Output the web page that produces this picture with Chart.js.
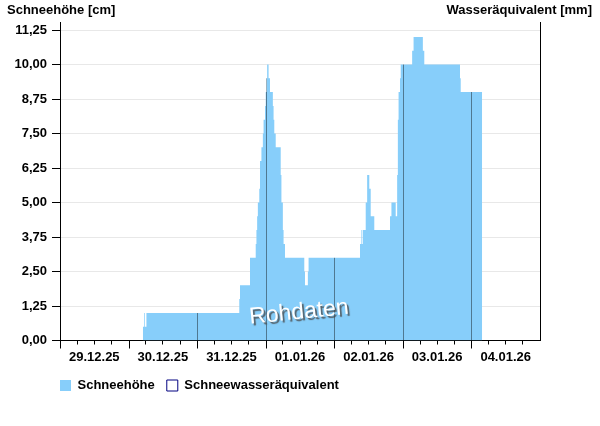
<!DOCTYPE html>
<html lang="de">
<head>
<meta charset="UTF-8">
<title>Schneehöhe</title>
<script src="https://cdn.jsdelivr.net/npm/chart.js"></script>
<style>
  html, body { margin: 0; padding: 0; background: #fff; }
</style>
</head>
<body>
<canvas id="chartSchnee" width="600" height="426"></canvas>

<script>
    // Tage auf der x-Achse (Stunden ab 29.12.25 00:00)
    const dayLabels = ['29.12.25', '30.12.25', '31.12.25', '01.01.26', '02.01.26', '03.01.26', '04.01.26'];

    // Schneehöhe: Zeitpunkt (Stunde) ab dem ein Wert gilt
    const snowHours = [29, 29.5, 29.75, 30.25, 62.75, 63, 66.5,
        68.5, 68.75, 69, 69.25, 69.75, 70, 70.5, 71, 71.25, 71.75,
        72, 72.25, 72.5, 73, 73.5, 74.5, 74.75, 75, 75.5,
        77.25, 77.5, 78, 78.25, 78.75, 85.5, 85.75, 86.75, 87,
        105, 105.5, 105.75, 106, 107, 107.5, 108.25, 108.75, 110,
        115.5, 116, 117.5, 118, 118.25, 118.5, 119, 119.25,
        123.25, 123.75, 127, 127.5, 140, 140.25, 147.75];
    const snowDepth = [0.5, 1, 0.5, 1, 1.5, 2, 3,
        3.5, 4, 4.5, 5, 5.5, 6.5, 7, 7.5, 8, 8.5,
        9, 9.5, 10, 9.5, 9, 8.5, 8, 7.5, 7,
        6, 5, 4, 3.5, 3, 2.5, 2, 2.5, 3,
        3.5, 4, 3.5, 4, 5, 6, 5.5, 4.5, 4,
        4.5, 5, 4.5, 6, 8, 9, 9.5, 10,
        10.5, 11, 10.5, 10, 9.5, 9, 0];

    // Schneewasseräquivalent: keine Werte vorhanden
    const sweHours = [];
    const sweValues = [];

    const yMin = 0, yMax = 11.54, yStep = 1.25;
    const titleLeft = 'Schneehöhe [cm]';
    const titleRight = 'Wasseräquivalent [mm]';
    const watermark = 'Rohdaten';

    const FONT = '"Liberation Sans", Arial, sans-serif';
    Chart.defaults.font.family = FONT;
    Chart.defaults.font.size = 13;
    Chart.defaults.font.weight = 'bold';
    Chart.defaults.color = '#000';

    function dayPx(scale, d) { return Math.round(scale.getPixelForValue(d * 24)) + 0.5; }

    const extras = {
        id: 'extras',
        afterLayout(chart) {
            // Legende bündig mit der Diagrammfläche
            chart.legend.left = chart.chartArea.left - chart.legend.options.labels.padding;
        },
        afterDatasetsDraw(chart) {
            // dunkle Tageslinien nur über den Balken
            const {ctx, chartArea, scales: {x}} = chart;
            ctx.save();
            ctx.globalCompositeOperation = 'source-atop';
            ctx.strokeStyle = 'rgba(0,0,0,0.42)';
            ctx.lineWidth = 1;
            for (let d = 1; d < dayLabels.length; d++) {
                const px = dayPx(x, d);
                ctx.beginPath();
                ctx.moveTo(px, chartArea.top);
                ctx.lineTo(px, chartArea.bottom);
                ctx.stroke();
            }
            ctx.restore();
        },
        afterDraw(chart) {
            const {ctx, chartArea, scales: {x}} = chart;
            ctx.save();
            // lange Striche am Tageswechsel
            ctx.strokeStyle = '#000';
            ctx.lineWidth = 1;
            const yb = Math.round(chartArea.bottom - 0.5) + 0.5;
            for (let d = 1; d < dayLabels.length; d++) {
                const px = dayPx(x, d);
                ctx.beginPath();
                ctx.moveTo(px, yb);
                ctx.lineTo(px, yb + 8);
                ctx.stroke();
            }
            const px0 = Math.round(chartArea.left - 0.5) + 0.5;
            ctx.beginPath();
            ctx.moveTo(px0, yb);
            ctx.lineTo(px0, yb + 8);
            ctx.stroke();
            // Achsentitel
            ctx.font = 'bold 13px ' + FONT;
            ctx.fillStyle = '#000';
            ctx.textBaseline = 'alphabetic';
            ctx.textAlign = 'left';
            ctx.fillText(titleLeft, 7, 14);
            ctx.textAlign = 'right';
            ctx.fillText(titleRight, 592, 14);
            // Wasserzeichen
            ctx.translate((chartArea.left + chartArea.right) / 2 - 1, chartArea.bottom - 28);
            ctx.rotate(-0.1);
            ctx.font = '23px ' + FONT;
            ctx.textAlign = 'center';
            ctx.textBaseline = 'middle';
            ctx.shadowColor = 'rgba(70,70,70,0.8)';
            ctx.shadowOffsetX = 2;
            ctx.shadowOffsetY = 2;
            ctx.shadowBlur = 1;
            ctx.fillStyle = '#fff';
            ctx.fillText(watermark, 0, 0);
            ctx.restore();
        }
    };

    const ctx = document.getElementById('chartSchnee').getContext('2d');
    new Chart(ctx, {
        type: 'line',
        data: {
            datasets: [{
                label: 'Schneehöhe',
                data: snowHours.map((h, i) => ({x: h, y: snowDepth[i]})),
                stepped: 'before',
                fill: 'origin',
                backgroundColor: '#87cefa',
                borderColor: 'rgba(0,0,0,0)',
                borderWidth: 0,
                pointRadius: 0,
                yAxisID: 'y'
            }, {
                label: 'Schneewasseräquivalent',
                data: sweHours.map((h, i) => ({x: h, y: sweValues[i]})),
                backgroundColor: '#ffffff',
                borderColor: '#000080',
                borderWidth: 1,
                pointRadius: 0,
                yAxisID: 'y2'
            }]
        },
        options: {
            responsive: false,
            animation: false,
            layout: { padding: { top: 22, left: 0, right: 0, bottom: 24 } },
            plugins: {
                tooltip: { enabled: false },
                legend: {
                    position: 'bottom',
                    align: 'start',
                    labels: { boxWidth: 11, boxHeight: 11, padding: 12, font: { size: 13, weight: 'bold' } }
                }
            },
            scales: {
                x: {
                    type: 'linear',
                    min: 0,
                    max: dayLabels.length * 24,
                    offset: false,
                    afterFit(scale) { scale.height = 26.5; },
                    border: { color: '#000', width: 1 },
                    grid: {
                        drawOnChartArea: false,
                        drawTicks: true,
                        tickLength: 4,
                        // Tageswechsel werden als lange Striche extra gezeichnet
                        tickColor: (c) => (c.tick && Math.round(c.tick.value) % 24 === 0) ? 'rgba(0,0,0,0)' : '#000'
                    },
                    ticks: {
                        stepSize: 6,
                        autoSkip: false,
                        maxRotation: 0,
                        minRotation: 0,
                        padding: 5,
                        callback: (v) => {
                            const h = Math.round(v);
                            return h % 24 === 12 ? dayLabels[(h - 12) / 24] : '';
                        }
                    }
                },
                y: {
                    position: 'left',
                    min: yMin,
                    max: yMax,
                    afterFit(scale) { scale.width = 60; },
                    border: { color: '#000', width: 1 },
                    grid: { color: 'rgba(0,0,0,0.09)', tickColor: '#000', tickLength: 8, drawTicks: true },
                    ticks: {
                        stepSize: yStep,
                        includeBounds: false,
                        padding: 5,
                        callback: (v) => v.toFixed(2).replace('.', ',')
                    }
                },
                y2: {
                    position: 'right',
                    min: 0,
                    max: 1,
                    afterFit(scale) { scale.width = 60; },
                    border: { color: '#000', width: 1 },
                    grid: { display: false, drawTicks: false },
                    ticks: { display: false }
                }
            }
        },
        plugins: [extras]
    });
</script>
</body>
</html>
